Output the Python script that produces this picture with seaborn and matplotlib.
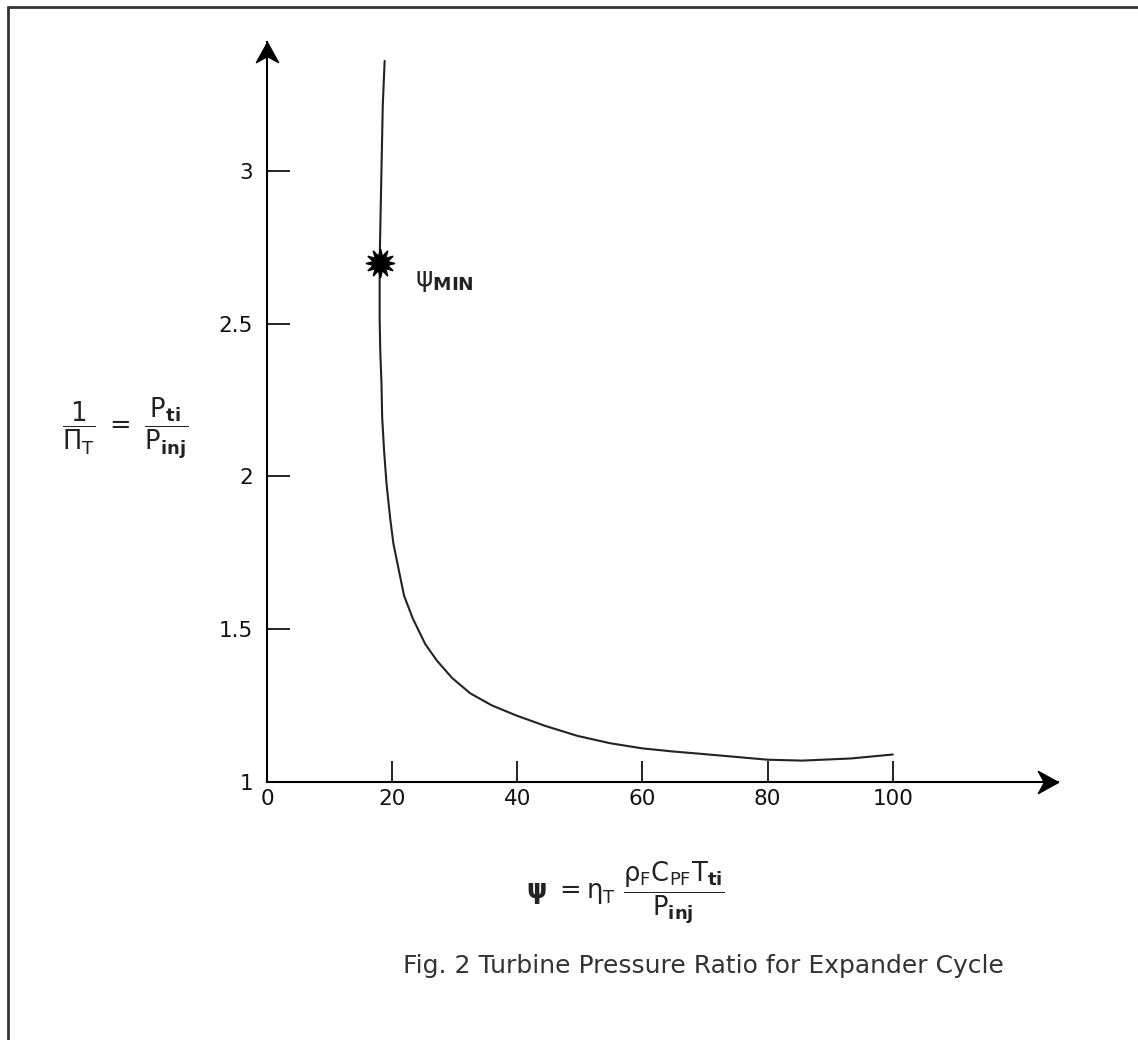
import seaborn as sns
import matplotlib.pyplot as plt
import numpy as np
from matplotlib.lines import Line2D

# values
psi = [18.8, 18.5, 18.2, 18.0, 18.0, 18.1, 18.3, 18.4, 18.7, 19.1, 19.7, 20.2, 21.0,
       21.9, 23.3, 25.3, 27.2, 29.6, 32.5, 35.9, 39.8, 44.4, 49.6, 54.8, 60.0, 64.8,
       68.9, 80.0, 85.5, 93.3, 100.0]
pressure_ratio = [3.36, 3.215, 2.91, 2.70, 2.518, 2.41, 2.30, 2.195, 2.087, 1.976,
                  1.86, 1.78, 1.70, 1.61, 1.535, 1.451, 1.396, 1.34, 1.29, 1.251,
                  1.218, 1.184, 1.151, 1.127, 1.11, 1.10, 1.093, 1.073, 1.07, 1.077,
                  1.09]
psi_min = 18.0
ratio_at_min = 2.70

x_ticks = [0, 20, 40, 60, 80, 100]
y_ticks = [1, 1.5, 2, 2.5, 3]
y_tick_labels = ['1', '1.5', '2', '2.5', '3']

sns.set_style('white')
plt.rcParams['font.family'] = ['DejaVu Sans']
plt.rcParams['mathtext.fontset'] = 'dejavusans'
plt.rcParams['mathtext.default'] = 'regular'

W, H = 1138, 1040
fig = plt.figure(figsize=(W / 100, H / 100), dpi=100)
ax = fig.add_axes([267 / W, 1 - 782 / H, (1058 - 267) / W, (782 - 42) / H])

sns.lineplot(x=psi, y=pressure_ratio, sort=False, estimator=None,
             color='#222222', linewidth=1.5, ax=ax)
ax.plot([psi_min], [ratio_at_min], marker=(12, 1, 0), ms=21,
        color='black', linestyle='none')

ax.set_xlim(0, 126.4)
ax.set_ylim(1, 3.422)

for s in ['top', 'right']:
    ax.spines[s].set_visible(False)
for s in ['left', 'bottom']:
    ax.spines[s].set_linewidth(1.5)
    ax.spines[s].set_color('black')

# arrow heads at the end of each axis
stealth = [(0, 0), (-1, 0.55), (-0.7, 0), (-1, -0.55), (0, 0)]
ax.plot(1, 0, marker=stealth, ms=29, color='black',
        transform=ax.transAxes, clip_on=False)
stealth_up = [(y, x) for x, y in stealth]
ax.plot(0, 1, marker=stealth_up, ms=29, color='black',
        transform=ax.transAxes, clip_on=False)

ax.set_xticks(x_ticks)
ax.set_yticks(y_ticks)
ax.set_yticklabels(y_tick_labels)
ax.tick_params(axis='both', direction='in', width=1.3, bottom=True, left=True,
               colors='#111111', labelsize=15.5)
ax.tick_params(axis='x', length=15, pad=5)
ax.tick_params(axis='y', length=16.5, pad=10)
ax.set_xlabel('')
ax.set_ylabel('')

ax.text(23.6, 2.64, r'$\psi_{\mathbf{MIN}}$', fontsize=19, color='#222222',
        ha='left', va='center')

fig.text(125 / W, 1 - 428 / H,
         r'$\dfrac{1}{\Pi_{T}}\ =\ \dfrac{P_{\mathbf{ti}}}{P_{\mathbf{inj}}}$',
         fontsize=18.5, color='#222222', ha='center', va='center')

fig.text(625 / W, 1 - 893 / H,
         r'$\mathbf{\psi}\ = \eta_{T}\ \dfrac{\rho_{F}C_{PF}T_{\mathbf{ti}}}{P_{\mathbf{inj}}}$',
         fontsize=18.5, color='#222222', ha='center', va='center')

fig.text(703 / W, 1 - 966 / H, 'Fig. 2 Turbine Pressure Ratio for Expander Cycle',
         fontsize=18, color='#333333', ha='center', va='center')

# partial frame around the figure
fig.add_artist(Line2D([8 / W, 8 / W], [0, 1 - 7 / H], transform=fig.transFigure,
                      color='#333333', linewidth=2))
fig.add_artist(Line2D([8 / W, 1], [1 - 7 / H, 1 - 7 / H], transform=fig.transFigure,
                      color='#333333', linewidth=2))

fig.savefig('out.png', dpi=100)
